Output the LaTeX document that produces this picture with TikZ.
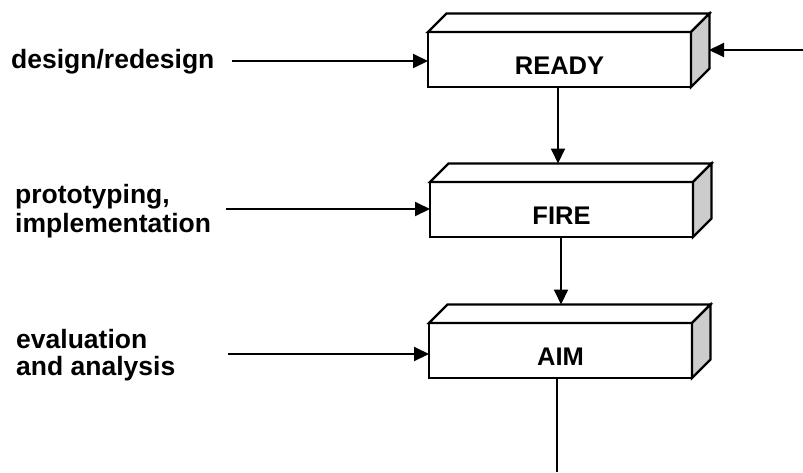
\documentclass[tikz,border=0pt]{standalone}
\usepackage{fontspec}
\setmainfont{Liberation Sans}
\usetikzlibrary{arrows.meta}
\definecolor{sidegray}{HTML}{CCCCCC}
\begin{document}
\begin{tikzpicture}[x=1pt,y=-1pt,
  stage/.style={draw,line width=2.2pt,fill=white,minimum width=263pt,minimum height=55pt,
    inner sep=0pt,outer sep=0pt,text height=30pt,text depth=0pt,anchor=north west,
    font=\fontsize{25.5}{29}\selectfont\bfseries},
  lbl/.style={inner sep=0pt,anchor=base west},
  face/.style={draw,line width=2.2pt,fill=white},
  sideface/.style={draw,line width=2.2pt,fill=sidegray},
  arr/.style={line width=2pt,-{Triangle[length=15pt,width=14pt]}},
  plain/.style={line width=2pt},
]
\useasboundingbox (0,0) rectangle (803,472);
% boxes
\node[stage] (ready) at (428,32) {READY};
\node[stage] (fire) at (430,182) {FIRE};
\node[stage] (aim) at (429,323) {AIM};
\foreach \b in {ready,fire,aim}{
  \draw[face] (\b.north west) -- ++(18.5,-18.5) -- ([shift={(18.5,-18.5)}]\b.north east) -- (\b.north east) -- cycle;
  \draw[sideface] (\b.north east) -- ++(18.5,-18.5) -- ([shift={(18.5,-18.5)}]\b.south east) -- (\b.south east) -- cycle;
}
% labels
\node[lbl] (l1) at (11,68) {\fontsize{26.5}{29}\selectfont\bfseries design/redesign};
\node[lbl] (l2) at (15,203) {\fontsize{26.5}{29.5}\selectfont\bfseries\vtop{\hbox{prototyping,}\hbox{implementation}}};
\node[lbl] (l3) at (16,348.5) {\fontsize{26.5}{26.5}\selectfont\bfseries\vtop{\hbox{evaluation}\hbox{and analysis}}};
% connector anchor points
\coordinate (s1) at (232,61);
\coordinate (s2) at (226,209);
\coordinate (s3) at (228,354);
\coordinate (rin) at (803,50);
\coordinate (bot) at (557,472);
% arrows
\draw[arr] (s1) -- (s1 -| ready.west);
\draw[arr] (s2) -- (s2 -| fire.west);
\draw[arr] (s3) -- (s3 -| aim.west);
\draw[arr] (rin) -- ++(-94,0);
\draw[arr] (558,87) coordinate (a1) -- (a1 |- {(0,163.5)});
\draw[arr] (561,237) coordinate (a2) -- (a2 |- {(0,304.5)});
\draw[plain] (bot |- aim.south) -- (bot);
\end{tikzpicture}
\end{document}
